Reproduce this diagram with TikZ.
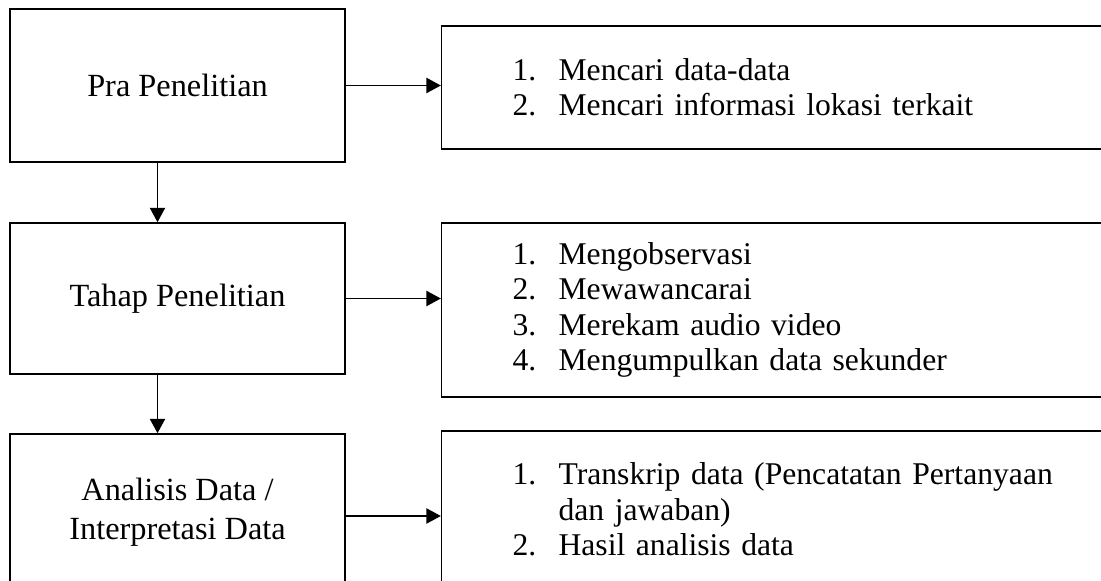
\documentclass[tikz,border=0pt]{standalone}
\usepackage{fontspec}
\setmainfont{Liberation Serif}
\usetikzlibrary{arrows.meta,positioning}
\newcommand\nomor[1]{\hspace*{0.675cm}\makebox[1.15cm][l]{#1}}

\begin{document}
\begin{tikzpicture}[>={Triangle[length=3.6mm,width=3.8mm]},line width=1.1pt,
  font=\fontsize{22.5}{25.25}\selectfont,
  tahap/.style={draw,minimum width=8.375cm,align=center,font=\fontsize{23}{27.7}\selectfont},
  isi/.style={draw,align=left,text width=14.5cm,inner xsep=1.1cm}]
\useasboundingbox (0,0) rectangle (27.525,-14.525);
\node[tahap,minimum height=3.825cm] (pra) at (4.4375,-2.1375) {Pra Penelitian};
\node[tahap,minimum height=3.775cm] (pen) at (4.4375,-7.4625) {Tahap Penelitian};
\node[tahap,minimum height=3.9cm] (ana) at (4.4375,-12.8) {Analisis Data /\\ Interpretasi Data};
\node[isi,minimum height=3.075cm] (l1) at (19.39,-2.1875) {\nomor{1.}Mencari data-data\\ \nomor{2.}Mencari informasi lokasi terkait};
\node[isi,minimum height=4.35cm] (l2) at (19.39,-7.75) {\nomor{1.}Mengobservasi\\ \nomor{2.}Mewawancarai\\ \nomor{3.}Merekam audio video\\ \nomor{4.}Mengumpulkan data sekunder};
\node[isi,minimum height=3.925cm] (l3) at (19.39,-12.74) {\nomor{1.}Transkrip data (Pencatatan Pertanyaan\\ \nomor{}dan jawaban)\\ \nomor{2.}Hasil analisis data};
\draw[->] (pra.east) -- (pra.east -| l1.west);
\draw[->] (pen.east) -- (pen.east -| l2.west);
\draw[->] ([yshift=-1mm]ana.east) -- ([yshift=-1mm]ana.east -| l3.west);
\draw[->] ([xshift=-5mm]pra.south) -- ([xshift=-5mm]pen.north);
\draw[->] ([xshift=-5mm]pen.south) -- ([xshift=-5mm]ana.north);
\end{tikzpicture}
\end{document}
